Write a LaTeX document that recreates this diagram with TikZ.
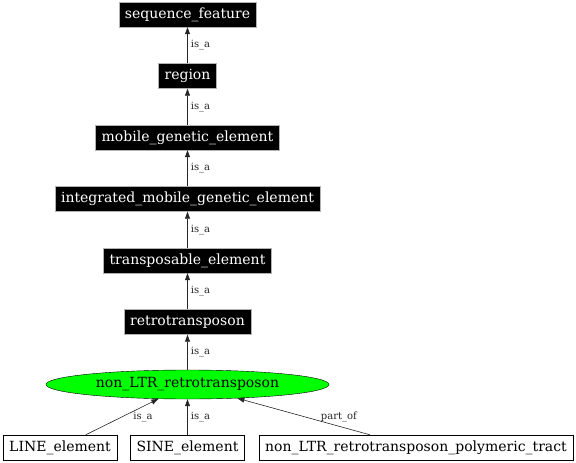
\documentclass[tikz,border=0pt]{standalone}
\usepackage{fontspec}
\setmainfont{DejaVu Serif}
\usetikzlibrary{shapes.geometric}
\usetikzlibrary{arrows.meta}
\tikzset{
termbox/.style={ % black boxes up the is_a chain
fill=black, draw=gray!60, text=white,
font=\fontsize{14}{16}\selectfont,
inner xsep=6pt, inner ysep=0pt, minimum height=25pt},
focus/.style={ % the term the graph is about
ellipse, draw, fill=green,
font=\fontsize{14}{16}\selectfont,
minimum width=283pt, minimum height=29pt, inner sep=0pt},
childbox/.style={ % white boxes below
draw, fill=white,
font=\fontsize{14}{16}\selectfont,
inner xsep=6pt, inner ysep=0pt, minimum height=25pt},
lbl/.style={font=\fontsize{10}{12}\selectfont, inner sep=2pt},
every edge/.style={ % relation arrows
draw,
-{Triangle[length=7pt,width=5pt]},
line width=0.6pt, black!85}}
\begin{document}
\begin{tikzpicture}[x=1pt, y=-1pt]
\useasboundingbox (0,0) rectangle (576,463);
\node[termbox] (seqfeat) at (187.5,14.5) {sequence\_feature};
\node[termbox] (region) at (187.5,76) {region};
\node[termbox] (mge) at (187.5,137.5) {mobile\_genetic\_element};
\node[termbox] (imge) at (187.5,199) {integrated\_mobile\_genetic\_element};
\node[termbox] (te) at (187.5,260.5) {transposable\_element};
\node[termbox] (retro) at (187.5,322) {retrotransposon};
\node[focus] (nonltr) at (187.5,384.5) {non\_LTR\_retrotransposon};
\node[childbox] (line) at (60,447.5) {LINE\_element};
\node[childbox] (sine) at (187.5,447.5) {SINE\_element};
\node[childbox] (tract) at (416,447.5) {non\_LTR\_retrotransposon\_polymeric\_tract};
\draw (region) edge node[lbl, right=1pt]{is\_a} (seqfeat);
\draw (mge) edge node[lbl, right=1pt]{is\_a} (region);
\draw (imge) edge node[lbl, right=1pt]{is\_a} (mge);
\draw (te) edge node[lbl, right=1pt]{is\_a} (imge);
\draw (retro) edge node[lbl, right=1pt]{is\_a} (te);
\draw (nonltr) edge node[lbl, right=1pt]{is\_a} (retro);
\draw (line) edge node[lbl, right=9pt]{is\_a} (nonltr);
\draw (sine) edge node[lbl, right=1pt]{is\_a} (nonltr);
\draw (tract) edge node[lbl, right=15pt]{part\_of} (nonltr);
\end{tikzpicture}
\end{document}
